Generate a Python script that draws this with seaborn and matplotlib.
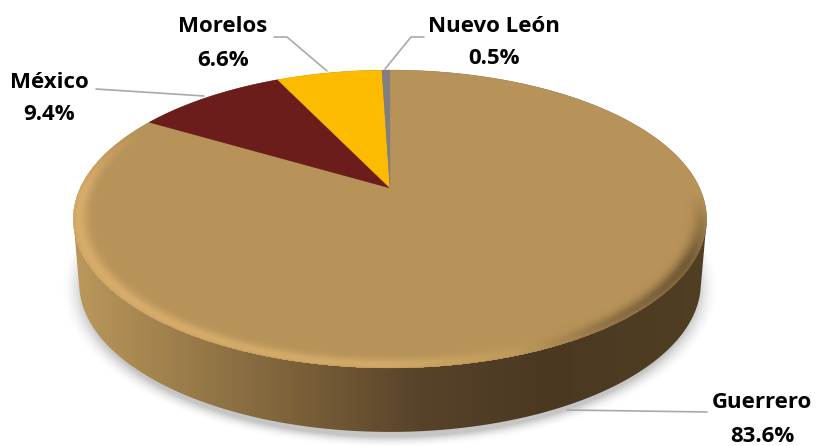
import numpy as np
import seaborn as sns
import matplotlib.pyplot as plt
from matplotlib.colors import to_rgb
from matplotlib.patches import Polygon

# Data, clockwise from 12 o'clock
states = ["Guerrero", "México", "Morelos", "Nuevo León"]
shares = [83.6, 9.4, 6.6, 0.5]
colors = ["#B89359", "#6B1D1B", "#FDBB00", "#7F7F7F"]

# Perspective of the disc, in pixels
CX, CY = 390, 188
A, K, B = 142.5, 0.208, 309.6
WALL = 64
LEADER = "#A9A9A9"

# name, share text centre, leader points
label_pos = {
    "Guerrero": ((762, 403), (762, 437), [(567, 410), (707, 412)]),
    "México": ((49, 82), (49, 114), [(96, 89), (204, 96)]),
    "Morelos": ((223, 27), (223, 60), [(274, 37), (287, 37), (327, 71)]),
    "Nuevo León": ((494, 26), (494, 58), [(424, 37), (411, 37), (385, 69)]),
}


def project(theta):
    u, v = np.sin(theta), np.cos(theta)
    w = 1 + K * v
    return CX + B * u / w, CY - A * v / w


def ramp(x, stops, cols):
    rgb = np.array([to_rgb(c) for c in cols])
    return np.stack([np.interp(x, stops, rgb[:, i]) for i in range(3)], axis=-1)


sns.set_theme(style="white")
plt.rcParams["font.family"] = ["Open Sans", "DejaVu Sans"]

fig, ax = plt.subplots(figsize=(8.16, 4.46), dpi=100)
fig.subplots_adjust(0, 0, 1, 1)
ax.axis("off")

X, Y = np.meshgrid(np.arange(816) + 0.5, np.arange(446) + 0.5)
extent = (0, 816, 446, 0)

# Soft shadow under the disc
rho = np.hypot((X - 390) / 330, (Y - 288) / 160)
shadow = np.zeros(X.shape + (4,))
shadow[..., :3] = 0.55
shadow[..., 3] = 0.5 * np.clip((1.0 - rho) / 0.07, 0, 1) ** 2
ax.imshow(shadow, extent=extent, aspect="auto", zorder=1)

# Side wall: shaded left to right, clipped to the disc outline
t = np.linspace(0, 2 * np.pi, 721)
top_x, top_y = project(t)
low_x = CX + (top_x - CX) * 0.982
low_y = top_y + WALL
wall_pts = np.vstack([np.column_stack([top_x, top_y]),
                      np.column_stack([low_x, low_y])])
wall_hull = []
for ang in t:
    # outermost point of both rims in each direction around the disc
    d = np.array([np.cos(ang), np.sin(ang)])
    wall_hull.append(wall_pts[np.argmax((wall_pts - [390, 250]) @ d)])
wall_color = ramp(X, [73, 150, 300, 420, 550, 706],
                  ["#BC985C", "#A5854F", "#7A6039", "#58432A", "#4A3821", "#513F24"])
wall = ax.imshow(wall_color, extent=extent, aspect="auto", zorder=2)
wall.set_clip_path(Polygon(wall_hull, transform=ax.transData))

# Top face, one wedge per state
edges = np.cumsum([0] + shares) / sum(shares) * 2 * np.pi
for i, state in enumerate(states):
    arc = np.linspace(edges[i], edges[i + 1], 200)
    px, py = project(arc)
    ax.fill(np.r_[CX, px], np.r_[CY, py], color=colors[i], lw=0.3, zorder=3)

# Bevel highlight along the front rim, fading out towards the back and the right
y_up = CY - Y
v = y_up / (A - K * y_up)
u = (X - CX) * (1 + K * v) / B
r = np.hypot(u, v)
rim = np.zeros(X.shape + (4,))
rim[..., :3] = ramp(X, [73, 390, 520, 620, 706],
                    ["#D8AE6C", "#D2AA68", "#BE995C", "#8A6D42", "#6B5532"])
fade = np.interp(X, [73, 390, 706], [0.45, 0.3, -0.05])
rim[..., 3] = (np.exp(-((r - 0.985) / 0.026) ** 2)
               * np.clip((fade - v) / 0.45, 0, 1) * (r <= 1.002))
ax.imshow(rim, extent=extent, aspect="auto", zorder=4)

# Labels and leader lines
for state, share in zip(states, shares):
    name_xy, share_xy, leader = label_pos[state]
    lx, ly = zip(*leader)
    ax.plot(lx, ly, color=LEADER, lw=1.2, zorder=5)
    ax.text(*name_xy, state, ha="center", va="center", fontsize=16,
            fontweight="bold", color="black", zorder=6)
    ax.text(*share_xy, f"{share:.1f}%", ha="center", va="center", fontsize=16,
            fontweight="bold", color="black", zorder=6)

ax.set_xlim(0, 816)
ax.set_ylim(446, 0)
fig.savefig("out.png", dpi=100)
plt.close(fig)
